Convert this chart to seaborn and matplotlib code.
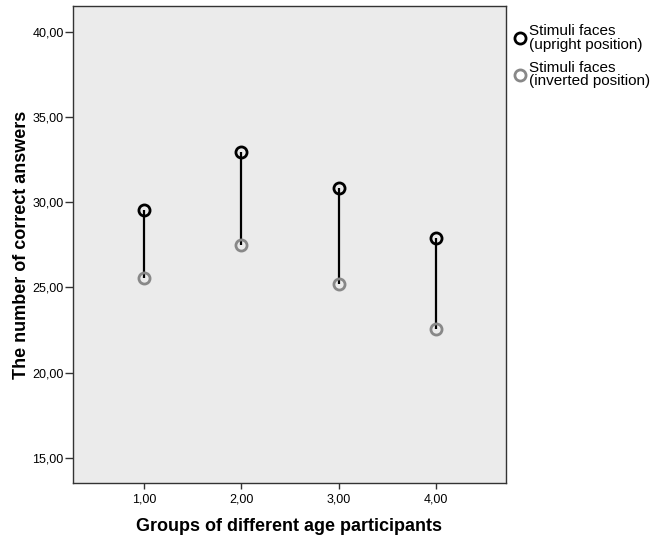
import matplotlib
matplotlib.use("Agg")
import matplotlib.pyplot as plt
import pandas as pd
import seaborn as sns
from matplotlib.ticker import FuncFormatter, MultipleLocator

# Data
groups = [1, 2, 3, 4]
upright = [29.53, 32.91, 30.84, 27.91]
inverted = [25.52, 27.48, 25.17, 22.55]
series_names = ["Stimuli faces\n(upright position)", "Stimuli faces\n(inverted position)"]

df = pd.DataFrame({
    "group": groups * 2,
    "answers": upright + inverted,
    "series": [series_names[0]] * 4 + [series_names[1]] * 4,
})

sns.set_style("ticks")
plt.rcParams["font.family"] = ["Liberation Sans", "DejaVu Sans"]
plt.rcParams["text.color"] = "black"
plt.rcParams["axes.labelcolor"] = "black"

fig = plt.figure(figsize=(6.61, 5.41), dpi=100)
ax = fig.add_axes([0.110, 0.107, 0.6555, 0.882])
ax.set_facecolor("#ebebeb")

# drop lines between the two series
ax.vlines(groups, inverted, upright, color="black", linewidth=1.6, zorder=2)

colors = {series_names[0]: "black", series_names[1]: "#888888"}
for name in series_names:
    sns.lineplot(
        data=df[df["series"] == name], x="group", y="answers", ax=ax,
        linestyle="", marker="o", markersize=8, markerfacecolor="none",
        markeredgecolor=colors[name], markeredgewidth=2.0, color=colors[name],
        label=name, zorder=3,
    )

ax.set_xlim(0.27, 4.72)
ax.set_ylim(13.52, 41.5)
ax.xaxis.set_major_locator(MultipleLocator(1))
ax.yaxis.set_major_locator(MultipleLocator(5))
fmt = FuncFormatter(lambda v, p: f"{v:.2f}".replace(".", ","))
ax.xaxis.set_major_formatter(fmt)
ax.yaxis.set_major_formatter(fmt)
ax.tick_params(axis="both", direction="out", width=1, color="#333333",
               labelsize=9, labelcolor="black")
ax.tick_params(axis="x", length=4.5, pad=3)
ax.tick_params(axis="y", length=5.5, pad=1)

for sp in ax.spines.values():
    sp.set_visible(True)
    sp.set_color("#333333")
    sp.set_linewidth(1.0)

ax.set_xlabel("Groups of different age participants", fontsize=13, fontweight="bold", labelpad=9)
ax.set_ylabel("The number of correct answers", fontsize=13, fontweight="bold", labelpad=2)

leg = ax.legend(loc="upper left", bbox_to_anchor=(0.780, 0.955), bbox_transform=fig.transFigure,
                frameon=False, fontsize=11, handlelength=0.6, handletextpad=0.3,
                labelspacing=0.6, borderaxespad=0, borderpad=0)
for t in leg.get_texts():
    t.set_linespacing(0.95)

fig.savefig("out.png", dpi=100)
